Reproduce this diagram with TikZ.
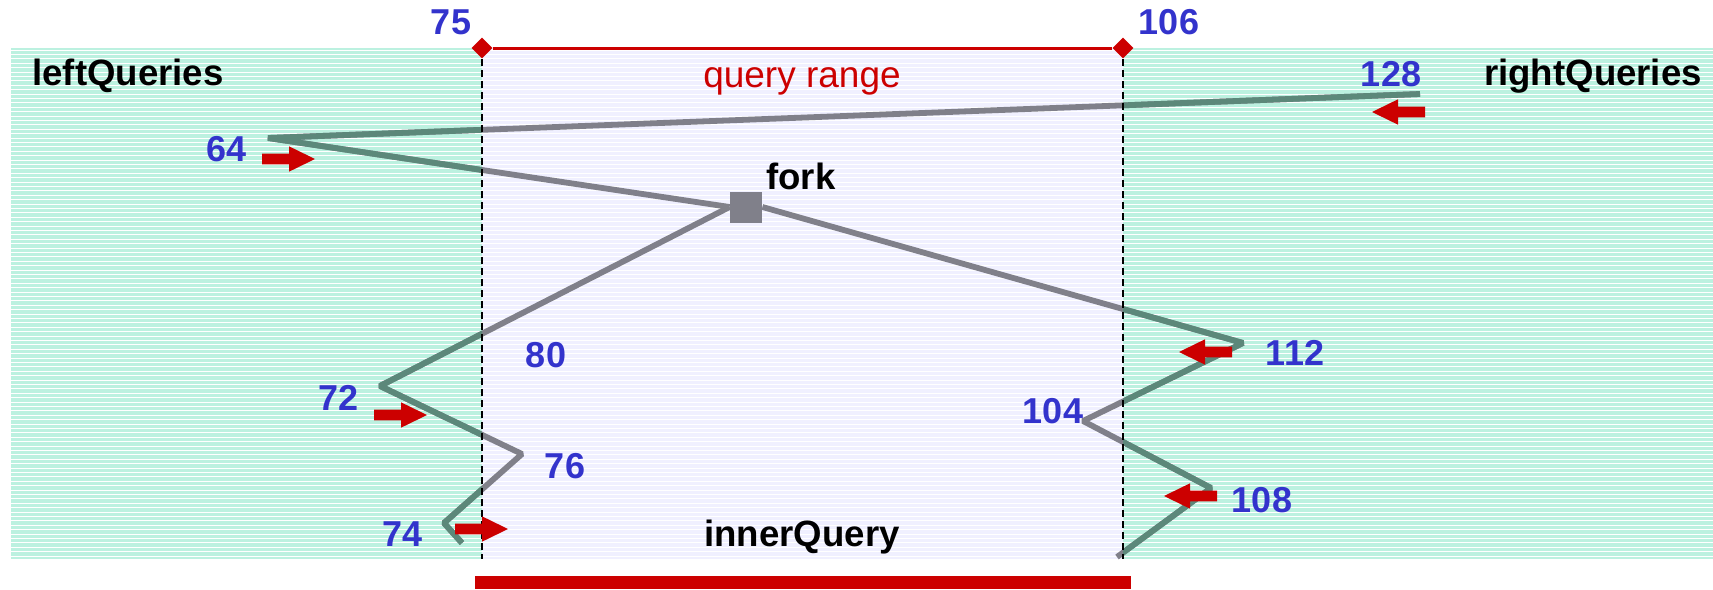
\documentclass[tikz,border=0pt]{standalone}
\usepackage{fontspec}
\setmainfont{Liberation Sans}
\usetikzlibrary{shapes.geometric}

\definecolor{bandteal}{RGB}{188,241,224}
\definecolor{bandlav}{RGB}{240,240,255}
\definecolor{numblue}{RGB}{51,51,204}
\definecolor{rangered}{RGB}{204,0,0}
\definecolor{pathgray}{RGB}{128,128,138}
\definecolor{pathteal}{RGB}{92,136,122}

\tikzset{
  pics/blockarrow/.style={code={
    \fill[rangered] (0,-5.3) -- (27,-5.3) -- (27,-12.7) -- (53,0) -- (27,12.7) -- (27,5.3) -- (0,5.3) -- cycle;}},
  num/.style={text=numblue,font=\fontsize{18}{20}\selectfont\bfseries,inner sep=0pt},
  caption/.style={font=\fontsize{18.3}{22}\selectfont\bfseries,inner sep=0pt,anchor=base},
  trace/.style={line width=2.9pt,line join=bevel},
  bound/.style={draw=black,line width=0.9pt,dash pattern=on 3.5pt off 2pt},
  marker/.style={diamond,fill=rangered,inner sep=0pt,minimum width=10.5pt,minimum height=10.5pt},
}

% the three branches of the query trace
\newcommand\drawtraces[1]{%
  \draw[trace,#1] (p128) -- (p64) -- (fork.west);
  \draw[trace,#1] (fork.east) -- (p112) -- (p104) -- (p108) -- (pend);
  \draw[trace,#1] (fork.west) -- (p72) -- (p76) -- (p74) -- (ptail);
}

\begin{document}
\begin{tikzpicture}[x=0.5pt,y=-0.5pt]
\useasboundingbox (0,0) rectangle (1713,589);

% striped background bands
\fill[bandteal] (11,48) rectangle (482,559);
\fill[bandlav] (482,48) rectangle (1123,559);
\fill[bandteal] (1123,48) rectangle (1713,559);
\foreach \k in {0,...,115}
  \draw[white,line width=0.4pt] (11,{50+\k*4.4}) -- (1713,{50+\k*4.4});

% query range markers
\node[marker] (d75) at (482,48) {};
\node[marker] (d106) at (1123,48) {};
\draw[rangered,line width=1.5pt] (d75) -- (d106);
\coordinate (b75) at (482,559);
\coordinate (b106) at (1123,559);

\node[num] (l75) at (451,22) {75};
\node[num] (l106) at (1169,22) {106};
\node[text=rangered,font=\fontsize{18.5}{22}\selectfont,inner sep=0pt,anchor=base] (qr) at (802,87) {query range};

\node[caption] (lq) at (128,85) {leftQueries};
\node[caption] (rq) at (1593,85) {rightQueries};
\node[caption] (fk) at (801,189) {fork};
\node[caption] (iq) at (802,546) {innerQuery};

% trace vertices
\coordinate (p128) at (1420,94);
\coordinate (p64) at (268,138);
\coordinate (p112) at (1243,343);
\coordinate (p104) at (1083,421);
\coordinate (p108) at (1211,488);
\coordinate (pend) at (1117,557);
\coordinate (p72) at (380,386);
\coordinate (p76) at (522,454);
\coordinate (p74) at (444,523);
\coordinate (ptail) at (462,543);

\node[fill=pathgray,minimum width=16pt,minimum height=15.5pt,inner sep=0pt] (fork) at (746,207) {};
\drawtraces{draw=pathgray}
% darker green tint where the trace crosses the side bands
\begin{scope}
  \clip (11,48) rectangle (482,559) (1123,48) rectangle (1713,559);
  \drawtraces{draw=pathteal}
\end{scope}

\draw[bound] (d75.south) -- (b75);
\draw[bound] (d106.south) -- (b106);

% vertex labels
\node[num] (l64) at (227,149) {64};
\node[num] (l128) at (1391,74) {128};
\node[num] (l72) at (339,398) {72};
\node[num] (l76) at (565,466) {76};
\node[num] (l74) at (403,534) {74};
\node[num] (l80) at (546,355) {80};
\node[num] (l112) at (1295,353) {112};
\node[num] (l104) at (1053,411) {104};
\node[num] (l108) at (1262,500) {108};

% direction arrows
\pic at (262,159) {blockarrow};
\pic at (374,415) {blockarrow};
\pic at (455,529) {blockarrow};
\pic[rotate=180] at (1425,112) {blockarrow};
\pic[rotate=180] at (1232,352) {blockarrow};
\pic[rotate=180] at (1217,496) {blockarrow};

% inner query bar
\fill[rangered] (475,576) rectangle (1131,589);
\end{tikzpicture}
\end{document}
